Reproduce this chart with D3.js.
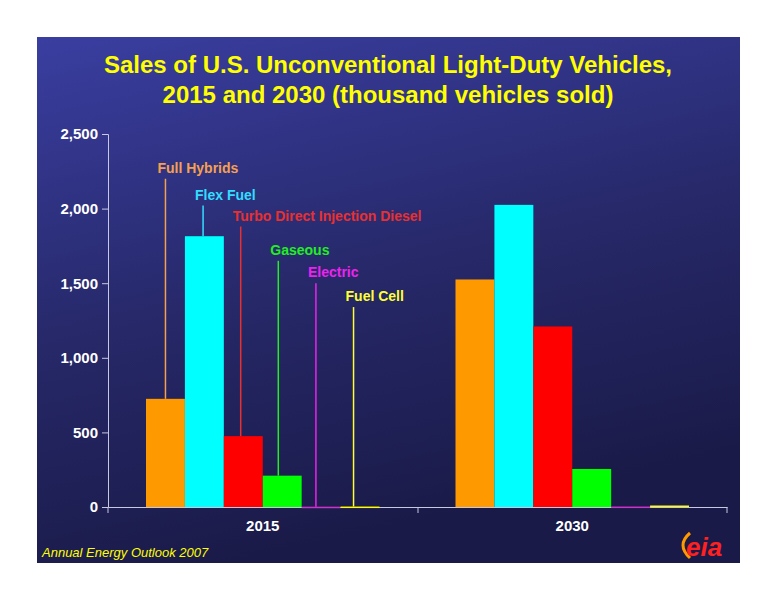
<!DOCTYPE html><html><head><meta charset="utf-8"><script src="https://cdn.jsdelivr.net/npm/d3@7"></script>
<style>body{margin:0;background:#fff}text{font-family:Arial,"Liberation Sans",sans-serif}</style></head><body><svg width="776" height="600"></svg>
<script>
const years=["2015","2030"];
const series=["Full Hybrids","Flex Fuel","Turbo Direct Injection Diesel","Gaseous","Electric","Fuel Cell"];
const values2015=[725,1815,475,210,2,3];
const values2030=[1525,2025,1210,255,3,10];
const yTicks=[0,500,1000,1500,2000,2500];
const colors=["#ff9900","#00ffff","#ff0000","#00ff00","#cc33cc","#ffff00"];
const labelColors=["#f5a050","#33ddff","#e83030","#22ee22","#ee22ee","#ffff33"];
const labelY=[2200,2020,1880,1650,1500,1340];
const svg=d3.select("svg");
const defs=svg.append("defs");
const g=defs.append("linearGradient").attr("id","bg").attr("x1",0).attr("y1",0).attr("x2",0.3).attr("y2",1);
g.append("stop").attr("offset",0).attr("stop-color","#3a3ea0");
g.append("stop").attr("offset",0.55).attr("stop-color","#262868");
g.append("stop").attr("offset",1).attr("stop-color","#1a1a48");
svg.append("rect").attr("x",37).attr("y",37).attr("width",703).attr("height",526).attr("fill","url(#bg)");
svg.append("text").attr("x",388).attr("y",73).attr("text-anchor","middle").attr("fill","#ffff00").attr("font-size",24).attr("font-weight","bold").text("Sales of U.S. Unconventional Light-Duty Vehicles,");
svg.append("text").attr("x",388).attr("y",103).attr("text-anchor","middle").attr("fill","#ffff00").attr("font-size",24).attr("font-weight","bold").text("2015 and 2030 (thousand vehicles sold)");
const y=d3.scaleLinear().domain([0,2500]).range([507,134]);
const x0=d3.scaleBand().domain(years).range([108,727]).paddingInner(0).paddingOuter(0);
const x1=d3.scaleBand().domain(series).range([38,x0.bandwidth()-38]);
const yAx=svg.append("g").attr("transform","translate(108,0)").call(d3.axisLeft(y).tickValues(yTicks).tickFormat(d3.format(",")).tickSize(6));
yAx.selectAll("text").attr("fill","#fff").attr("font-size",15).attr("font-weight","bold").attr("x",-10);
yAx.selectAll("line,path").attr("stroke","#c8c8e0");
const xAx=svg.append("g").attr("transform","translate(0,507)").call(d3.axisBottom(x0).tickSize(0));
xAx.selectAll("path").attr("stroke","#c8c8e0");
xAx.selectAll("text").attr("fill","#fff").attr("font-size",15).attr("font-weight","bold").attr("dy","1.4em");
[108,418,727].forEach(t=>svg.append("line").attr("x1",t).attr("x2",t).attr("y1",507).attr("y2",513).attr("stroke","#c8c8e0"));
const data=[values2015,values2030];
years.forEach((yr,i)=>{
  series.forEach((s,j)=>{
    const v=data[i][j];
    svg.append("rect").attr("x",x0(yr)+x1(s)).attr("width",x1.bandwidth()).attr("y",y(v)).attr("height",Math.max(1.5,507-y(v))).attr("fill",colors[j]);
  });
});
series.forEach((s,j)=>{
  const cx=x0("2015")+x1(s)+x1.bandwidth()/2-j*1.3;
  const ly=y(labelY[j]);
  svg.append("line").attr("x1",cx).attr("x2",cx).attr("y1",ly).attr("y2",y(values2015[j])).attr("stroke",labelColors[j]).attr("stroke-width",1.5);
  svg.append("text").attr("x",cx-8).attr("y",ly-6).attr("fill",labelColors[j]).attr("font-size",14).attr("font-weight","bold").text(s);
});
svg.append("text").attr("x",42).attr("y",557).attr("fill","#ffff00").attr("font-size",13).attr("font-style","italic").text("Annual Energy Outlook 2007");
const logo=svg.append("g");
logo.append("path").attr("d","M690,558 Q676,545 690,533").attr("stroke","#ff9900").attr("stroke-width",3).attr("fill","none");
logo.append("text").attr("x",686).attr("y",556).attr("fill","#ff2020").attr("font-size",26).attr("font-weight","bold").attr("font-style","italic").text("eia");
</script></body></html>
